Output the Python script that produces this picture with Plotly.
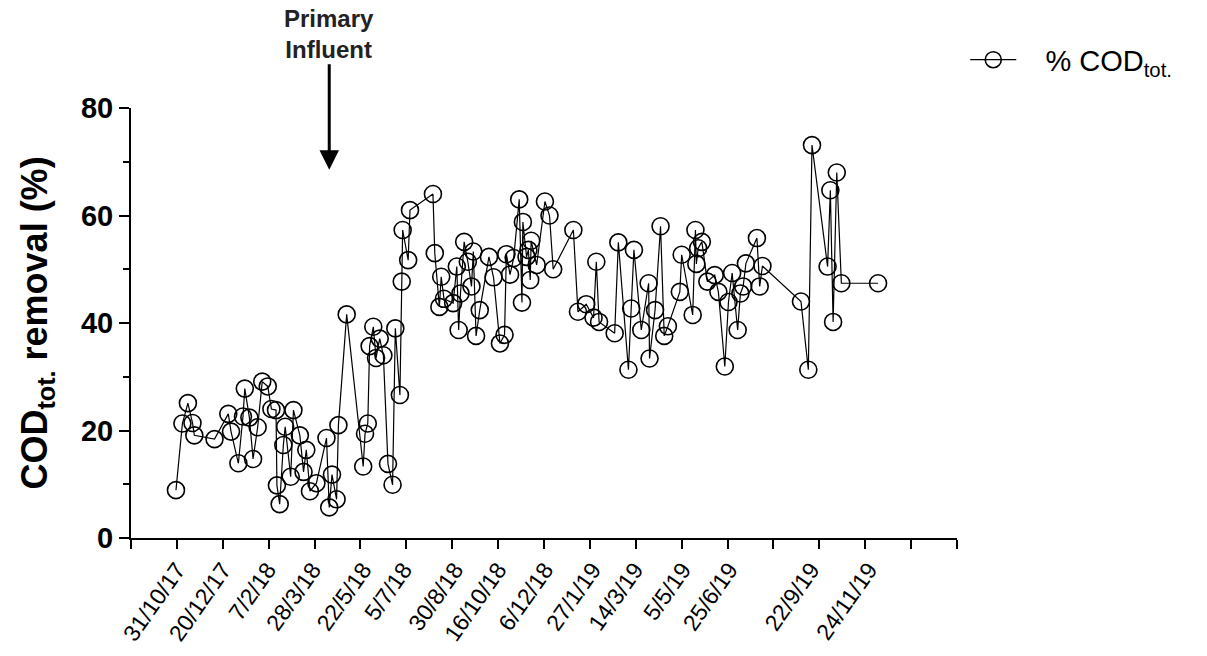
import plotly.graph_objects as go
import pandas as pd

# ---------------- data ----------------
start_date = "2017-09-11"  # axis origin (day 0)
days = [49, 56, 62, 67, 69, 91, 106, 109, 117, 122,
        124, 129, 133, 138, 143, 149, 153, 158, 159, 162,
        166, 168, 174, 177, 184, 188, 191, 195, 202, 213,
        216, 219, 224, 226, 235, 253, 255, 258, 260, 264,
        267, 271, 275, 280, 285, 288, 293, 295, 296, 302,
        304, 329, 331, 336, 338, 341, 351, 355, 357, 359,
        363, 367, 371, 373, 376, 380, 390, 395, 402, 407,
        409, 413, 417, 423, 426, 427, 431, 433, 435, 436,
        442, 451, 456, 460, 482, 487, 496, 504, 507, 510,
        527, 531, 542, 545, 548, 556, 564, 565, 571, 577,
        581, 585, 598, 600, 612, 615, 616, 618, 622, 628,
        636, 640, 647, 651, 655, 661, 664, 667, 670, 682,
        685, 688, 730, 738, 742, 759, 762, 765, 769, 774,
        814]
cod_removal = [8.9, 21.3, 25.1, 21.4, 19.1, 18.4, 23.1, 19.8, 13.9, 22.6,
               27.8, 22.4, 14.7, 20.6, 29.1, 28.2, 24.0, 23.8, 9.8, 6.3,
               17.3, 20.7, 11.4, 23.8, 19.1, 12.3, 16.4, 8.7, 10.2, 18.6,
               5.7, 11.8, 7.2, 21.0, 41.6, 13.3, 19.4, 21.3, 35.7, 39.3,
               33.5, 37.1, 34.0, 13.8, 9.9, 39.0, 26.6, 47.7, 57.3, 51.7,
               61.0, 64.0, 53.0, 43.0, 48.6, 44.5, 43.7, 50.5, 38.7, 45.5,
               55.1, 51.4, 46.8, 53.3, 37.6, 42.4, 52.3, 48.5, 36.2, 37.8,
               52.8, 49.0, 52.1, 63.0, 43.8, 58.8, 52.3, 53.6, 48.0, 55.3,
               50.8, 62.6, 60.0, 50.0, 57.3, 42.1, 43.5, 41.0, 51.4, 40.2,
               38.1, 55.0, 31.3, 42.7, 53.6, 38.7, 47.4, 33.4, 42.4, 58.0,
               37.6, 39.4, 45.8, 52.7, 41.5, 57.3, 51.0, 53.9, 55.1, 47.7,
               48.9, 45.8, 31.9, 43.9, 49.3, 38.7, 45.5, 46.8, 51.1, 55.8,
               46.8, 50.6, 44.0, 31.3, 73.1, 50.5, 64.7, 40.2, 68.0, 47.4,
               47.4]
label_dates = ["2017-10-31", "2017-12-20", "2018-02-07", "2018-03-28",
               "2018-05-22", "2018-07-05", "2018-08-30", "2018-10-16",
               "2018-12-06", "2019-01-27", "2019-03-14", "2019-05-05",
               "2019-06-25", "2019-09-22", "2019-11-24"]
label_text = ["31/10/17", "20/12/17", "7/2/18", "28/3/18", "22/5/18",
              "5/7/18", "30/8/18", "16/10/18", "6/12/18", "27/1/19",
              "14/3/19", "5/5/19", "25/6/19", "22/9/19", "24/11/19"]
y_ticks = [0, 20, 40, 60, 80]
y_minor = [10, 30, 50, 70]
axis_days = 900
tick_step_days = 50
event_day = 216          # "Primary Influent" switch
event_label = "<b>Primary<br>Influent</b>"
series_name = "\u00a0\u00a0\u00a0% COD<sub>tot.</sub>"

FONT = "Arial, Liberation Sans, sans-serif"

t0 = pd.Timestamp(start_date)
dates = [t0 + pd.Timedelta(days=d) for d in days]
x_end = t0 + pd.Timedelta(days=axis_days)
event_date = t0 + pd.Timedelta(days=event_day)

fig = go.Figure()
fig.add_trace(go.Scatter(
    x=dates, y=cod_removal, mode="lines+markers", name=series_name,
    line=dict(color="black", width=1.2),
    marker=dict(symbol="circle-open", size=17, color="black",
                line=dict(width=1.6, color="black")),
))
# carrier trace for the label axis
fig.add_trace(go.Scatter(
    x=label_dates, y=[0] * len(label_dates), xaxis="x2", mode="markers",
    marker=dict(opacity=0), showlegend=False, hoverinfo="skip",
))

fig.update_layout(
    width=1207, height=656,
    margin=dict(l=131, r=250, t=108, b=118),
    paper_bgcolor="white", plot_bgcolor="white",
    font=dict(family=FONT, color="black"),
    xaxis=dict(
        type="date", range=[t0, x_end], automargin=False,
        showline=True, linecolor="black", linewidth=2,
        ticks="outside", ticklen=9, tickwidth=2, tickcolor="black",
        tickmode="linear", tick0=start_date, dtick=tick_step_days * 86400000,
        showticklabels=False, showgrid=False, zeroline=False,
    ),
    xaxis2=dict(
        type="date", range=[t0, x_end], overlaying="x", anchor="y", side="bottom",
        automargin=False,
        tickmode="array", tickvals=label_dates, ticktext=label_text,
        ticks="outside", ticklen=8, tickcolor="rgba(0,0,0,0)",
        tickangle=-55, tickfont=dict(family=FONT, size=23, color="black"),
        showline=False, showgrid=False, zeroline=False,
    ),
    yaxis=dict(
        range=[0, 80], automargin=False,
        showline=True, linecolor="black", linewidth=2,
        ticks="outside", ticklen=10, tickwidth=2, tickcolor="black",
        tickmode="array", tickvals=y_ticks,
        tickfont=dict(family=FONT, size=29, color="black", weight="bold"),
        minor=dict(tickmode="array", tickvals=y_minor, ticks="outside",
                   ticklen=6, tickwidth=2, tickcolor="black"),
        showgrid=False, zeroline=False,
        title=dict(text="<b>COD<sub>tot.</sub> removal (%)</b>",
                   font=dict(family=FONT, size=36, color="black"), standoff=22),
    ),
    showlegend=True,
    legend=dict(x=1.010, xanchor="left", y=1.112, yanchor="middle",
                itemwidth=46,
                font=dict(family=FONT, size=29, color="black"),
                bgcolor="rgba(0,0,0,0)"),
    annotations=[
        dict(x=event_date, y=1.172, xref="x", yref="paper", text=event_label,
             xanchor="center", yanchor="middle",
             showarrow=False, font=dict(family=FONT, size=24, color="#222"),
             align="center"),
        dict(x=event_date, y=68.5, xref="x", yref="y", text="",
             showarrow=True, ax=0, ay=-107, arrowhead=2, arrowsize=1.3,
             arrowwidth=3, arrowcolor="black"),
    ],
)

fig.write_html("out.html", config={"displayModeBar": False},
               post_script="document.body.style.margin='0';document.body.style.overflow='hidden';")
